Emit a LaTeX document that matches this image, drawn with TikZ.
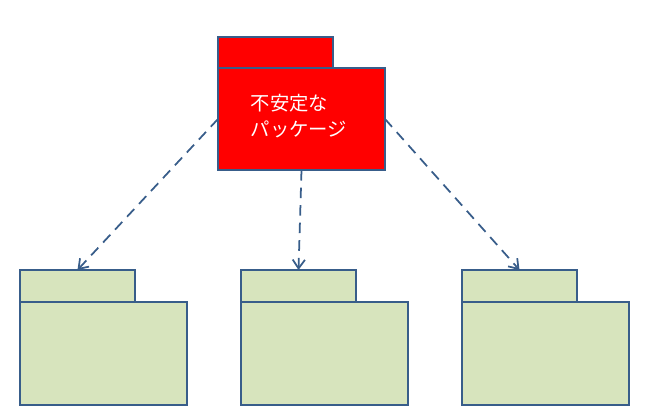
\documentclass[tikz,border=0pt]{standalone}
\usepackage{fontspec}
\newfontfamily\cjk{Noto Sans CJK JP}
\usetikzlibrary{arrows.meta}
\usetikzlibrary{positioning}
\definecolor{edge}{HTML}{385D8A}
\definecolor{pkggreen}{HTML}{D7E4BD}
\begin{document}
\begin{tikzpicture}[x=0.02cm,y=-0.02cm,
    every node/.style={inner sep=0pt,outer sep=0pt},
    part/.style={draw=edge,line width=1.6pt,minimum width=#1*0.02cm,anchor=north west},
    dep/.style={draw=edge,line width=1pt,dash pattern=on 6pt off 4pt,-{Straight Barb[length=5pt,width=7pt]}}]
    \useasboundingbox (0,0) rectangle (645,418);
    % unstable package
    \node[part=115,minimum height=0.62cm,fill=red] (tab0) at (218,37) {};
    \node[part=167,minimum height=2.04cm,fill=red] (pkg0) at (218,68) {};
    \node[text=white,align=left,font=\cjk\fontsize{11}{15}\selectfont] (lbl) at (299,116) {不安定な\\パッケージ};

    % dependent packages
    \foreach \i/\x in {1/20,2/241,3/462} {
        \node[part=115,minimum height=0.64cm,fill=pkggreen] (tab\i) at (\x,270) {};
        \node[part=167,minimum height=2.06cm,fill=pkggreen] (pkg\i) at (\x,302) {};
    }

    % dependencies
    \draw[dep] (pkg0.west) -- (tab1.north);
    \draw[dep] (pkg0.south) -- (tab2.north);
    \draw[dep] (pkg0.east) -- (tab3.north);
\end{tikzpicture}
\end{document}
